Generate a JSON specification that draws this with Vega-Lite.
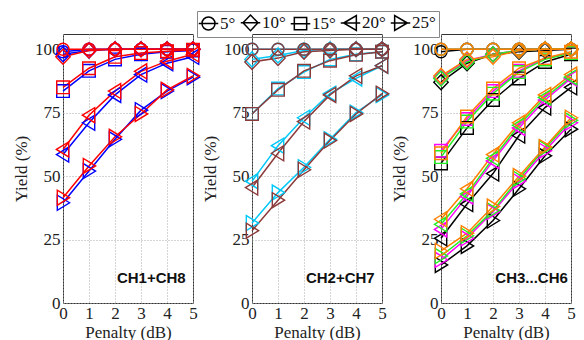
{
 "$schema": "https://vega.github.io/schema/vega-lite/v6.json",
 "padding": {"left": 12, "top": 10, "right": 5, "bottom": 2},
 "config": {
  "font": "Liberation Serif",
  "view": {"stroke": "#333", "strokeWidth": 1},
  "axis": {"labelFont": "Liberation Serif", "labelFontSize": 17, "labelColor": "#222", "titleFont": "Liberation Serif", "titleFontSize": 17, "titleFontWeight": "normal", "titleColor": "#222", "domain": false, "ticks": false, "gridColor": "#aaa", "gridDash": [1, 2], "gridWidth": 1, "labelOverlap": false, "labelFlush": false, "labelBound": false},
  "axisY": {"titlePadding": 4, "labelPadding": 3},
  "axisX": {"titlePadding": 3, "labelPadding": 2}
 },
 "resolve": {"scale": {"shape": "independent"}, "legend": {"shape": "independent"}},
 "datasets": {"d": [
  {"c":"CH1","a":"5°","x":0,"y":99},{"c":"CH1","a":"5°","x":1,"y":100},{"c":"CH1","a":"5°","x":2,"y":100},{"c":"CH1","a":"5°","x":3,"y":100},{"c":"CH1","a":"5°","x":4,"y":100},{"c":"CH1","a":"5°","x":5,"y":100},
  {"c":"CH1","a":"10°","x":0,"y":98},{"c":"CH1","a":"10°","x":1,"y":99.5},{"c":"CH1","a":"10°","x":2,"y":100},{"c":"CH1","a":"10°","x":3,"y":100},{"c":"CH1","a":"10°","x":4,"y":100},{"c":"CH1","a":"10°","x":5,"y":100},
  {"c":"CH1","a":"15°","x":0,"y":83.5},{"c":"CH1","a":"15°","x":1,"y":91.5},{"c":"CH1","a":"15°","x":2,"y":96},{"c":"CH1","a":"15°","x":3,"y":98},{"c":"CH1","a":"15°","x":4,"y":99},{"c":"CH1","a":"15°","x":5,"y":99.5},
  {"c":"CH1","a":"20°","x":0,"y":58.5},{"c":"CH1","a":"20°","x":1,"y":71},{"c":"CH1","a":"20°","x":2,"y":82},{"c":"CH1","a":"20°","x":3,"y":90},{"c":"CH1","a":"20°","x":4,"y":94.5},{"c":"CH1","a":"20°","x":5,"y":97},
  {"c":"CH1","a":"25°","x":0,"y":39.5},{"c":"CH1","a":"25°","x":1,"y":52},{"c":"CH1","a":"25°","x":2,"y":64.5},{"c":"CH1","a":"25°","x":3,"y":76},{"c":"CH1","a":"25°","x":4,"y":83.5},{"c":"CH1","a":"25°","x":5,"y":89},
  {"c":"CH8","a":"5°","x":0,"y":100},{"c":"CH8","a":"5°","x":1,"y":100},{"c":"CH8","a":"5°","x":2,"y":100},{"c":"CH8","a":"5°","x":3,"y":100},{"c":"CH8","a":"5°","x":4,"y":100},{"c":"CH8","a":"5°","x":5,"y":100},
  {"c":"CH8","a":"10°","x":0,"y":97},{"c":"CH8","a":"10°","x":1,"y":99.5},{"c":"CH8","a":"10°","x":2,"y":100},{"c":"CH8","a":"10°","x":3,"y":100},{"c":"CH8","a":"10°","x":4,"y":100},{"c":"CH8","a":"10°","x":5,"y":100},
  {"c":"CH8","a":"15°","x":0,"y":85},{"c":"CH8","a":"15°","x":1,"y":92.5},{"c":"CH8","a":"15°","x":2,"y":97},{"c":"CH8","a":"15°","x":3,"y":98.5},{"c":"CH8","a":"15°","x":4,"y":99.2},{"c":"CH8","a":"15°","x":5,"y":99.8},
  {"c":"CH8","a":"20°","x":0,"y":60.5},{"c":"CH8","a":"20°","x":1,"y":74},{"c":"CH8","a":"20°","x":2,"y":83.5},{"c":"CH8","a":"20°","x":3,"y":91.3},{"c":"CH8","a":"20°","x":4,"y":95.3},{"c":"CH8","a":"20°","x":5,"y":98},
  {"c":"CH8","a":"25°","x":0,"y":41.5},{"c":"CH8","a":"25°","x":1,"y":54},{"c":"CH8","a":"25°","x":2,"y":65.5},{"c":"CH8","a":"25°","x":3,"y":74.5},{"c":"CH8","a":"25°","x":4,"y":84},{"c":"CH8","a":"25°","x":5,"y":89.5},
  {"c":"CH2","a":"5°","x":0,"y":100},{"c":"CH2","a":"5°","x":1,"y":100},{"c":"CH2","a":"5°","x":2,"y":100},{"c":"CH2","a":"5°","x":3,"y":100},{"c":"CH2","a":"5°","x":4,"y":100},{"c":"CH2","a":"5°","x":5,"y":100},
  {"c":"CH2","a":"10°","x":0,"y":96},{"c":"CH2","a":"10°","x":1,"y":97.5},{"c":"CH2","a":"10°","x":2,"y":99.5},{"c":"CH2","a":"10°","x":3,"y":100},{"c":"CH2","a":"10°","x":4,"y":100},{"c":"CH2","a":"10°","x":5,"y":100},
  {"c":"CH2","a":"15°","x":0,"y":74.5},{"c":"CH2","a":"15°","x":1,"y":84.5},{"c":"CH2","a":"15°","x":2,"y":91},{"c":"CH2","a":"15°","x":3,"y":96},{"c":"CH2","a":"15°","x":4,"y":98},{"c":"CH2","a":"15°","x":5,"y":99},
  {"c":"CH2","a":"20°","x":0,"y":48},{"c":"CH2","a":"20°","x":1,"y":62},{"c":"CH2","a":"20°","x":2,"y":73},{"c":"CH2","a":"20°","x":3,"y":82.5},{"c":"CH2","a":"20°","x":4,"y":88.5},{"c":"CH2","a":"20°","x":5,"y":93.5},
  {"c":"CH2","a":"25°","x":0,"y":31.5},{"c":"CH2","a":"25°","x":1,"y":43.5},{"c":"CH2","a":"25°","x":2,"y":53.5},{"c":"CH2","a":"25°","x":3,"y":64.5},{"c":"CH2","a":"25°","x":4,"y":75},{"c":"CH2","a":"25°","x":5,"y":82},
  {"c":"CH7","a":"5°","x":0,"y":100},{"c":"CH7","a":"5°","x":1,"y":100},{"c":"CH7","a":"5°","x":2,"y":100},{"c":"CH7","a":"5°","x":3,"y":100},{"c":"CH7","a":"5°","x":4,"y":100},{"c":"CH7","a":"5°","x":5,"y":100},
  {"c":"CH7","a":"10°","x":0,"y":95},{"c":"CH7","a":"10°","x":1,"y":96.5},{"c":"CH7","a":"10°","x":2,"y":99},{"c":"CH7","a":"10°","x":3,"y":99.5},{"c":"CH7","a":"10°","x":4,"y":100},{"c":"CH7","a":"10°","x":5,"y":100},
  {"c":"CH7","a":"15°","x":0,"y":74.5},{"c":"CH7","a":"15°","x":1,"y":84},{"c":"CH7","a":"15°","x":2,"y":91.5},{"c":"CH7","a":"15°","x":3,"y":95.5},{"c":"CH7","a":"15°","x":4,"y":97.8},{"c":"CH7","a":"15°","x":5,"y":99},
  {"c":"CH7","a":"20°","x":0,"y":45.5},{"c":"CH7","a":"20°","x":1,"y":59},{"c":"CH7","a":"20°","x":2,"y":71.5},{"c":"CH7","a":"20°","x":3,"y":82},{"c":"CH7","a":"20°","x":4,"y":89.5},{"c":"CH7","a":"20°","x":5,"y":93.5},
  {"c":"CH7","a":"25°","x":0,"y":28.5},{"c":"CH7","a":"25°","x":1,"y":40.5},{"c":"CH7","a":"25°","x":2,"y":52.5},{"c":"CH7","a":"25°","x":3,"y":64},{"c":"CH7","a":"25°","x":4,"y":74.5},{"c":"CH7","a":"25°","x":5,"y":82.5},
  {"c":"CH3","a":"5°","x":0,"y":99},{"c":"CH3","a":"5°","x":1,"y":100},{"c":"CH3","a":"5°","x":2,"y":100},{"c":"CH3","a":"5°","x":3,"y":100},{"c":"CH3","a":"5°","x":4,"y":100},{"c":"CH3","a":"5°","x":5,"y":100},
  {"c":"CH3","a":"10°","x":0,"y":87},{"c":"CH3","a":"10°","x":1,"y":94.5},{"c":"CH3","a":"10°","x":2,"y":98},{"c":"CH3","a":"10°","x":3,"y":99},{"c":"CH3","a":"10°","x":4,"y":99.5},{"c":"CH3","a":"10°","x":5,"y":100},
  {"c":"CH3","a":"15°","x":0,"y":55},{"c":"CH3","a":"15°","x":1,"y":69},{"c":"CH3","a":"15°","x":2,"y":80},{"c":"CH3","a":"15°","x":3,"y":88.5},{"c":"CH3","a":"15°","x":4,"y":95},{"c":"CH3","a":"15°","x":5,"y":98},
  {"c":"CH3","a":"20°","x":0,"y":25.5},{"c":"CH3","a":"20°","x":1,"y":39},{"c":"CH3","a":"20°","x":2,"y":51},{"c":"CH3","a":"20°","x":3,"y":66},{"c":"CH3","a":"20°","x":4,"y":77},{"c":"CH3","a":"20°","x":5,"y":85},
  {"c":"CH3","a":"25°","x":0,"y":15},{"c":"CH3","a":"25°","x":1,"y":22.5},{"c":"CH3","a":"25°","x":2,"y":32.5},{"c":"CH3","a":"25°","x":3,"y":45},{"c":"CH3","a":"25°","x":4,"y":58},{"c":"CH3","a":"25°","x":5,"y":68.5},
  {"c":"CH4","a":"5°","x":0,"y":100},{"c":"CH4","a":"5°","x":1,"y":100},{"c":"CH4","a":"5°","x":2,"y":100},{"c":"CH4","a":"5°","x":3,"y":100},{"c":"CH4","a":"5°","x":4,"y":100},{"c":"CH4","a":"5°","x":5,"y":100},
  {"c":"CH4","a":"10°","x":0,"y":89},{"c":"CH4","a":"10°","x":1,"y":95.5},{"c":"CH4","a":"10°","x":2,"y":98},{"c":"CH4","a":"10°","x":3,"y":99.5},{"c":"CH4","a":"10°","x":4,"y":100},{"c":"CH4","a":"10°","x":5,"y":100},
  {"c":"CH4","a":"15°","x":0,"y":60},{"c":"CH4","a":"15°","x":1,"y":72.5},{"c":"CH4","a":"15°","x":2,"y":83.5},{"c":"CH4","a":"15°","x":3,"y":91.5},{"c":"CH4","a":"15°","x":4,"y":96.5},{"c":"CH4","a":"15°","x":5,"y":98.5},
  {"c":"CH4","a":"20°","x":0,"y":29},{"c":"CH4","a":"20°","x":1,"y":42},{"c":"CH4","a":"20°","x":2,"y":56},{"c":"CH4","a":"20°","x":3,"y":69},{"c":"CH4","a":"20°","x":4,"y":80},{"c":"CH4","a":"20°","x":5,"y":88.5},
  {"c":"CH4","a":"25°","x":0,"y":17},{"c":"CH4","a":"25°","x":1,"y":25.5},{"c":"CH4","a":"25°","x":2,"y":36},{"c":"CH4","a":"25°","x":3,"y":48},{"c":"CH4","a":"25°","x":4,"y":60},{"c":"CH4","a":"25°","x":5,"y":71},
  {"c":"CH5","a":"5°","x":0,"y":100},{"c":"CH5","a":"5°","x":1,"y":100},{"c":"CH5","a":"5°","x":2,"y":100},{"c":"CH5","a":"5°","x":3,"y":100},{"c":"CH5","a":"5°","x":4,"y":100},{"c":"CH5","a":"5°","x":5,"y":100},
  {"c":"CH5","a":"10°","x":0,"y":88.5},{"c":"CH5","a":"10°","x":1,"y":95},{"c":"CH5","a":"10°","x":2,"y":98},{"c":"CH5","a":"10°","x":3,"y":99.5},{"c":"CH5","a":"10°","x":4,"y":100},{"c":"CH5","a":"10°","x":5,"y":100},
  {"c":"CH5","a":"15°","x":0,"y":57.5},{"c":"CH5","a":"15°","x":1,"y":71.5},{"c":"CH5","a":"15°","x":2,"y":82.5},{"c":"CH5","a":"15°","x":3,"y":91},{"c":"CH5","a":"15°","x":4,"y":96},{"c":"CH5","a":"15°","x":5,"y":98.5},
  {"c":"CH5","a":"20°","x":0,"y":31},{"c":"CH5","a":"20°","x":1,"y":43},{"c":"CH5","a":"20°","x":2,"y":57},{"c":"CH5","a":"20°","x":3,"y":70},{"c":"CH5","a":"20°","x":4,"y":81},{"c":"CH5","a":"20°","x":5,"y":89},
  {"c":"CH5","a":"25°","x":0,"y":18.5},{"c":"CH5","a":"25°","x":1,"y":26.5},{"c":"CH5","a":"25°","x":2,"y":36.5},{"c":"CH5","a":"25°","x":3,"y":49},{"c":"CH5","a":"25°","x":4,"y":61},{"c":"CH5","a":"25°","x":5,"y":72},
  {"c":"CH6","a":"5°","x":0,"y":100},{"c":"CH6","a":"5°","x":1,"y":100},{"c":"CH6","a":"5°","x":2,"y":100},{"c":"CH6","a":"5°","x":3,"y":100},{"c":"CH6","a":"5°","x":4,"y":100},{"c":"CH6","a":"5°","x":5,"y":100},
  {"c":"CH6","a":"10°","x":0,"y":89.5},{"c":"CH6","a":"10°","x":1,"y":96},{"c":"CH6","a":"10°","x":2,"y":97},{"c":"CH6","a":"10°","x":3,"y":99.5},{"c":"CH6","a":"10°","x":4,"y":100},{"c":"CH6","a":"10°","x":5,"y":100},
  {"c":"CH6","a":"15°","x":0,"y":59},{"c":"CH6","a":"15°","x":1,"y":73.5},{"c":"CH6","a":"15°","x":2,"y":84.5},{"c":"CH6","a":"15°","x":3,"y":92.5},{"c":"CH6","a":"15°","x":4,"y":96.5},{"c":"CH6","a":"15°","x":5,"y":99},
  {"c":"CH6","a":"20°","x":0,"y":33},{"c":"CH6","a":"20°","x":1,"y":45},{"c":"CH6","a":"20°","x":2,"y":58.5},{"c":"CH6","a":"20°","x":3,"y":71},{"c":"CH6","a":"20°","x":4,"y":82},{"c":"CH6","a":"20°","x":5,"y":90},
  {"c":"CH6","a":"25°","x":0,"y":20.5},{"c":"CH6","a":"25°","x":1,"y":27.5},{"c":"CH6","a":"25°","x":2,"y":38},{"c":"CH6","a":"25°","x":3,"y":50},{"c":"CH6","a":"25°","x":4,"y":61.5},{"c":"CH6","a":"25°","x":5,"y":73}
 ]},
 "spacing": 59,
 "bounds": "flush",
 "hconcat": [
  {"width": 130, "height": 269,
   "resolve": {"scale": {"shape": "independent"}, "legend": {"shape": "independent"}},
   "layer": [
   {"data": {"name": "d"}, "transform": [{"filter": {"field": "c", "oneOf": ["CH1", "CH8"]}}],
    "mark": {"type": "line", "strokeWidth": 1.5},
    "encoding": {
     "x": {"field": "x", "type": "quantitative", "scale": {"domain": [0, 5], "nice": false}, "axis": {"values": [0, 1, 2, 3, 4, 5], "tickCount": 6, "title": "Penalty (dB)"}},
     "y": {"field": "y", "type": "quantitative", "scale": {"domain": [0, 106], "nice": false}, "axis": {"values": [0, 25, 50, 75, 100], "tickCount": 5, "title": "Yield (%)"}},
     "color": {"field": "c", "type": "nominal", "scale": {"domain": ["CH1", "CH8", "CH2", "CH7", "CH3", "CH4", "CH5", "CH6"], "range": ["#0000ff", "#ff0000", "#00c8f8", "#8b3a3a", "#000000", "#ff00ff", "#22ee22", "#ff8000"]}, "legend": null},
     "detail": {"field": "a"}}},
   {"data": {"name": "d"}, "transform": [{"filter": {"field": "c", "oneOf": ["CH1", "CH8"]}}],
    "mark": {"type": "point", "filled": false, "size": 144, "strokeWidth": 1.4, "opacity": 1},
    "encoding": {
     "x": {"field": "x", "type": "quantitative"},
     "y": {"field": "y", "type": "quantitative"},
     "color": {"field": "c", "type": "nominal", "legend": null},
     "shape": {"field": "a", "type": "nominal", "legend": null, "scale": {"domain": ["5°", "10°", "15°", "20°", "25°"], "range": ["M1,0A1,1,0,1,1,-1,0A1,1,0,1,1,1,0Z", "M-1.2,0L0,-1.25L1.2,0L0,1.25Z", "M-1.05,-1.05L1.05,-1.05L1.05,1.05L-1.05,1.05Z", "M-1.1,0L0.95,-1.25L0.95,1.25Z", "M1.1,0L-0.95,-1.25L-0.95,1.25Z"]}}}},
   {"data": {"values": [{"t": "CH1+CH8"}]}, "mark": {"type": "text", "font": "Liberation Sans", "fontWeight": "bold", "fontSize": 15, "align": "right", "baseline": "middle", "color": "#111"},
    "encoding": {"x": {"datum": 4.72, "type": "quantitative"}, "y": {"datum": 10, "type": "quantitative"}, "text": {"field": "t"}}},
   {"data": {"values": [{"k": "5°"}, {"k": "10°"}, {"k": "15°"}, {"k": "20°"}, {"k": "25°"}]},
    "mark": {"type": "point", "filled": false, "opacity": 0, "size": 0},
    "encoding": {
     "shape": {"field": "k", "type": "nominal", "sort": null,
      "scale": {"domain": ["5°", "10°", "15°", "20°", "25°"], "range": ["M-1.5,0L1.5,0M1,0A1,1,0,1,1,-1,0A1,1,0,1,1,1,0Z", "M-1.5,0L1.5,0M-1.15,0L0,-1.2L1.15,0L0,1.2Z", "M-1.5,0L1.5,0M-0.95,-0.95L0.95,-0.95L0.95,0.95L-0.95,0.95Z", "M-1.5,0L1.5,0M-1.05,0L0.9,-1.15L0.9,1.15Z", "M-1.5,0L1.5,0M1.05,0L-0.9,-1.15L-0.9,1.15Z"]},
      "legend": {"orient": "none", "legendX": 134, "legendY": -23, "direction": "horizontal", "title": null, "labelFont": "Liberation Serif", "labelFontSize": 17, "labelColor": "#111", "symbolSize": 169, "symbolOpacity": 1, "symbolStrokeColor": "black", "symbolFillColor": "transparent", "symbolStrokeWidth": 1.5, "strokeColor": "#888", "fillColor": "white", "padding": 3, "columnPadding": 1, "symbolOffset": 0, "labelOffset": 3}}}}
  ]},
  {"width": 130, "height": 269, "layer": [
   {"data": {"name": "d"}, "transform": [{"filter": {"field": "c", "oneOf": ["CH2", "CH7"]}}],
    "mark": {"type": "line", "strokeWidth": 1.5},
    "encoding": {
     "x": {"field": "x", "type": "quantitative", "scale": {"domain": [0, 5], "nice": false}, "axis": {"values": [0, 1, 2, 3, 4, 5], "tickCount": 6, "title": "Penalty (dB)"}},
     "y": {"field": "y", "type": "quantitative", "scale": {"domain": [0, 106], "nice": false}, "axis": {"values": [0, 25, 50, 75, 100], "tickCount": 5, "title": "Yield (%)"}},
     "color": {"field": "c", "type": "nominal", "legend": null},
     "detail": {"field": "a"}}},
   {"data": {"name": "d"}, "transform": [{"filter": {"field": "c", "oneOf": ["CH2", "CH7"]}}],
    "mark": {"type": "point", "filled": false, "size": 144, "strokeWidth": 1.4, "opacity": 1},
    "encoding": {
     "x": {"field": "x", "type": "quantitative"},
     "y": {"field": "y", "type": "quantitative"},
     "color": {"field": "c", "type": "nominal", "legend": null},
     "shape": {"field": "a", "type": "nominal", "legend": null, "scale": {"domain": ["5°", "10°", "15°", "20°", "25°"], "range": ["M1,0A1,1,0,1,1,-1,0A1,1,0,1,1,1,0Z", "M-1.2,0L0,-1.25L1.2,0L0,1.25Z", "M-1.05,-1.05L1.05,-1.05L1.05,1.05L-1.05,1.05Z", "M-1.1,0L0.95,-1.25L0.95,1.25Z", "M1.1,0L-0.95,-1.25L-0.95,1.25Z"]}}}},
   {"data": {"values": [{"t": "CH2+CH7"}]}, "mark": {"type": "text", "font": "Liberation Sans", "fontWeight": "bold", "fontSize": 15, "align": "right", "baseline": "middle", "color": "#111"},
    "encoding": {"x": {"datum": 4.72, "type": "quantitative"}, "y": {"datum": 10, "type": "quantitative"}, "text": {"field": "t"}}}
  ]},
  {"width": 130, "height": 269, "layer": [
   {"data": {"name": "d"}, "transform": [{"filter": {"field": "c", "oneOf": ["CH3", "CH4", "CH5", "CH6"]}}],
    "mark": {"type": "line", "strokeWidth": 1.5},
    "encoding": {
     "x": {"field": "x", "type": "quantitative", "scale": {"domain": [0, 5], "nice": false}, "axis": {"values": [0, 1, 2, 3, 4, 5], "tickCount": 6, "title": "Penalty (dB)"}},
     "y": {"field": "y", "type": "quantitative", "scale": {"domain": [0, 106], "nice": false}, "axis": {"values": [0, 25, 50, 75, 100], "tickCount": 5, "title": "Yield (%)"}},
     "color": {"field": "c", "type": "nominal", "legend": null},
     "detail": {"field": "a"}}},
   {"data": {"name": "d"}, "transform": [{"filter": {"field": "c", "oneOf": ["CH3", "CH4", "CH5", "CH6"]}}],
    "mark": {"type": "point", "filled": false, "size": 144, "strokeWidth": 1.4, "opacity": 1},
    "encoding": {
     "x": {"field": "x", "type": "quantitative"},
     "y": {"field": "y", "type": "quantitative"},
     "color": {"field": "c", "type": "nominal", "legend": null},
     "shape": {"field": "a", "type": "nominal", "legend": null, "scale": {"domain": ["5°", "10°", "15°", "20°", "25°"], "range": ["M1,0A1,1,0,1,1,-1,0A1,1,0,1,1,1,0Z", "M-1.2,0L0,-1.25L1.2,0L0,1.25Z", "M-1.05,-1.05L1.05,-1.05L1.05,1.05L-1.05,1.05Z", "M-1.1,0L0.95,-1.25L0.95,1.25Z", "M1.1,0L-0.95,-1.25L-0.95,1.25Z"]}}}},
   {"data": {"values": [{"t": "CH3...CH6"}]}, "mark": {"type": "text", "font": "Liberation Sans", "fontWeight": "bold", "fontSize": 15, "align": "right", "baseline": "middle", "color": "#111"},
    "encoding": {"x": {"datum": 4.88, "type": "quantitative"}, "y": {"datum": 10, "type": "quantitative"}, "text": {"field": "t"}}}
  ]}
 ]
}
